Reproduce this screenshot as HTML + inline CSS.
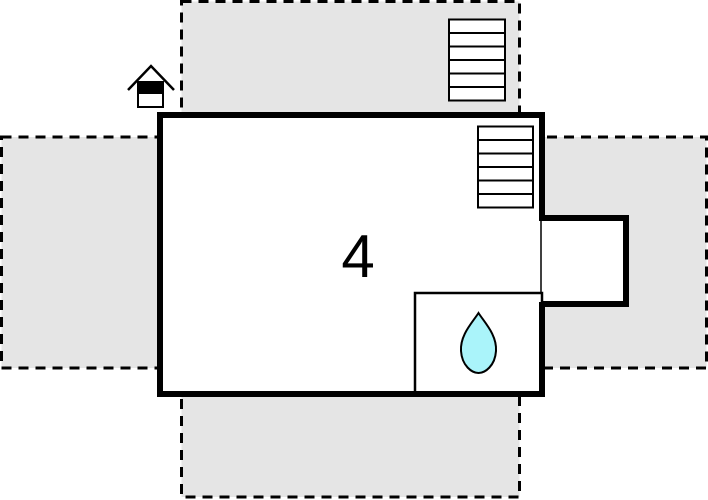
<!DOCTYPE html><html><head><style>html,body{margin:0;padding:0;background:#fff;width:708px;height:500px;overflow:hidden}</style></head><body>
<svg width="708" height="500" viewBox="0 0 708 500" xmlns="http://www.w3.org/2000/svg">
<g fill="#e5e5e5" stroke="#000" stroke-width="3" stroke-dasharray="10,7">
<rect x="181.5" y="1.5" width="338" height="140"/>
<rect x="1.5" y="137" width="170" height="231"/>
<rect x="530" y="137" width="176.5" height="231"/>
<rect x="181.5" y="360" width="338" height="137"/>
</g>
<rect x="160" y="115" width="382" height="279" fill="#fff" stroke="#000" stroke-width="6"/>
<path d="M542 218 H626 V304 H542" fill="#fff" stroke="#000" stroke-width="6"/>
<rect x="539" y="221" width="6" height="80" fill="#fff"/>
<line x1="541" y1="218" x2="541" y2="304" stroke="#000" stroke-width="1.5"/>
<rect x="415" y="293" width="127" height="101" fill="#fff" stroke="#000" stroke-width="2.5"/>
<line x1="542" y1="302" x2="542" y2="394" stroke="#000" stroke-width="6"/>
<line x1="160" y1="394" x2="545" y2="394" stroke="#000" stroke-width="6"/>
<g fill="#fff" stroke="#000" stroke-width="2">
<rect x="449" y="19.5" width="56" height="81"/>
<path d="M449 33 H505 M449 46.5 H505 M449 60 H505 M449 73.5 H505 M449 87 H505"/>
<rect x="478" y="126.5" width="55" height="81"/>
<path d="M478 140 H533 M478 153.5 H533 M478 167 H533 M478 180.5 H533 M478 194 H533"/>
</g>
<path d="M128 90 L151 66 L174 90" fill="none" stroke="#000" stroke-width="2.5"/>
<rect x="138" y="82" width="25" height="25" fill="#fff" stroke="#000" stroke-width="2"/>
<rect x="138" y="82" width="25" height="12" fill="#000"/>
<path d="M478.5 313 C472 323 460 335 461 351 C462 366 472 373 478.5 373 C485 373 495 366 496 351 C497 335 485 323 478.5 313 Z" fill="#aaf4fa" stroke="#000" stroke-width="2"/>
<text x="358" y="277" font-family="Liberation Sans, sans-serif" font-size="60" text-anchor="middle" fill="#000">4</text>
</svg>
</body></html>
